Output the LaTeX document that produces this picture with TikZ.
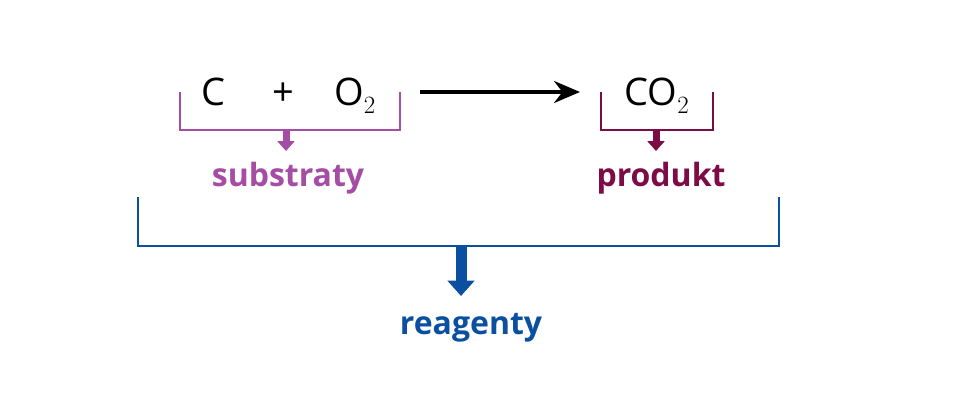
\documentclass[tikz,border=0pt]{standalone}
\usepackage{fontspec}
\setmainfont{Open Sans}
\usetikzlibrary{arrows.meta}
\definecolor{purp}{HTML}{A54CA5}
\definecolor{wine}{HTML}{7D0B46}
\definecolor{blu}{HTML}{0B4FA0}
\tikzset{
  eq/.style={font=\fontsize{38}{40}\selectfont, inner sep=0pt, anchor=base},
  lbl/.style={font=\bfseries\fontsize{32}{34}\selectfont, inner sep=0pt, anchor=base},
  brk/.style={line width=2.5pt},
  fat/.style={line width=#1, -{Triangle[length=1.4*#1, width=2.4*#1]}}
}
\begin{document}
\begin{tikzpicture}[x=1pt,y=-1pt]
\useasboundingbox (0,0) rectangle (960,409);
\node[eq] (c) at (213,106) {C};
\node[eq] (plus) at (283,106) {+};
\node[eq] (o2) at (355,106) {O$_2$};
\node[eq] (co2) at (657,106) {CO$_2$};
\coordinate (a1) at (420,92);
\coordinate (a2) at (580,92);
\draw[line width=3.5pt, -{Stealth[length=26pt, width=22pt]}] (a1) -- (a2);
% purple
\draw[brk, purp] (180,92) -- (180,130) -- (400,130) -- (400,92);
\coordinate (p1) at (286,131);
\coordinate (p2) at (286,151);
\draw[fat=7pt, purp] (p1) -- (p2);
\node[lbl, text=purp] (sub) at (288,186) {substraty};
% wine
\draw[brk, wine] (601,92) -- (601,130) -- (713,130) -- (713,92);
\coordinate (w1) at (656,131);
\coordinate (w2) at (656,151);
\draw[fat=7pt, wine] (w1) -- (w2);
\node[lbl, text=wine] (prod) at (661,186) {produkt};
% blue
\draw[brk, blu] (138,197) -- (138,246) -- (779,246) -- (779,197);
\coordinate (b1) at (461,247);
\coordinate (b2) at (461,296);
\draw[fat=11pt, blu] (b1) -- (b2);
\node[lbl, text=blu] (re) at (471,334) {reagenty};
\end{tikzpicture}
\end{document}
